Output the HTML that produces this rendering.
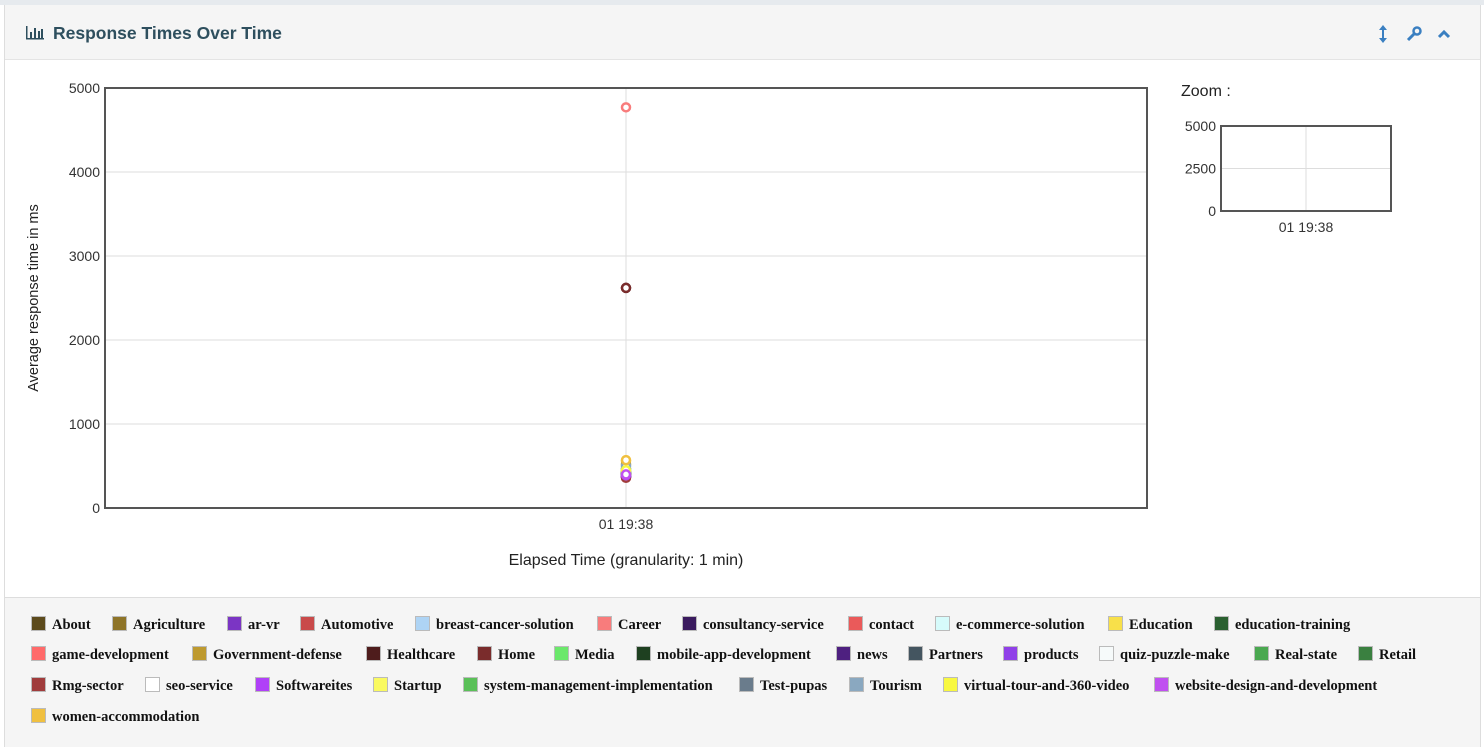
<!DOCTYPE html>
<html><head><meta charset="utf-8"><style>
body{margin:0;width:1484px;height:751px;background:#fff;overflow:hidden;font-family:"Liberation Sans",sans-serif}
#top{position:absolute;left:0;top:0;width:1484px;height:5px;background:#e6eaee}
#panel{position:absolute;left:4px;top:5px;width:1475px;height:741px;border:1px solid #ddd;border-top:none;background:#fff}
#hdr{position:absolute;left:0;top:0;width:1475px;height:54px;background:#f5f5f5;border-bottom:1px solid #e4e4e4}
#title{position:absolute;left:48px;top:18px;font-size:17.5px;font-weight:bold;color:#2e4f5e}
#legend{position:absolute;left:0;top:592px;width:1475px;height:149px;background:#f5f5f5;border-top:1px solid #ddd}
#legend .it{position:absolute;font-family:"Liberation Serif",serif;font-weight:bold;font-size:14.5px;color:#111;white-space:nowrap}
#legend .sw{display:inline-block;width:13px;height:13px;border:1px solid #bbb;vertical-align:-2px;margin-right:6px}
</style></head><body>
<div id="top"></div>
<div id="panel">
<div id="hdr">
<svg style="position:absolute;left:20px;top:20px" width="20" height="16"><rect x="1" y="1" width="1.5" height="13" fill="#2e4f5e"/><rect x="1" y="13" width="18" height="1.5" fill="#2e4f5e"/><rect x="5" y="7" width="2" height="6" fill="#2e4f5e"/><rect x="9" y="3" width="2" height="10" fill="#2e4f5e"/><rect x="13" y="6" width="2" height="7" fill="#2e4f5e"/><rect x="16" y="4" width="2" height="9" fill="#2e4f5e"/></svg>
<div id="title">Response Times Over Time</div>
<svg style="position:absolute;left:1370px;top:20px" width="90" height="18">
<g fill="#3a7fc1"><rect x="7" y="3" width="2" height="12"/><polygon points="4,5 8,0 12,5"/><polygon points="4,13 8,18 12,13"/></g>
<g stroke="#3a7fc1" fill="none"><line x1="33" y1="15" x2="40" y2="8" stroke-width="3"/><circle cx="42" cy="6" r="3.5" stroke-width="2.5"/></g>
<polyline points="64,12 69,7 74,12" stroke="#3a7fc1" stroke-width="3" fill="none"/>
</svg>
</div>
<svg id="main" style="position:absolute;left:-4px;top:-5px" width="1484" height="600"></svg>
<div id="legend"></div>
</div>
<script>
const categories=["01 19:38"];
const seriesNames=["About","Agriculture","ar-vr","Automotive","breast-cancer-solution","Career","consultancy-service","contact","e-commerce-solution","Education","education-training","game-development","Government-defense","Healthcare","Home","Media","mobile-app-development","news","Partners","products","quiz-puzzle-make","Real-state","Retail","Rmg-sector","seo-service","Softwareites","Startup","system-management-implementation","Test-pupas","Tourism","virtual-tour-and-360-video","website-design-and-development","women-accommodation"];
const seriesColors=["#5c4a1c","#8e7428","#7b35c4","#c94a4a","#aed4f5","#f87c7c","#3a1a5e","#ea5a5a","#d6fbfb","#f8e04a","#2a6030","#ff6a6a","#be9a30","#4e1c1c","#7a2c2c","#6be86b","#1e4020","#4e2080","#445560","#9040e8","#f6fafa","#4aa850","#3a8040","#a03c3c","#ffffff","#b040f8","#fafa60","#5ac058","#6a7c8c","#8aa8c0","#f8f840","#c050f0","#f0c040"];
const seriesValues=[400,420,380,390,430,4770,370,440,500,560,410,450,520,2620,2620,460,400,370,420,380,450,410,400,360,480,390,440,430,470,500,450,400,570];
const yTicks=[0,1000,2000,3000,4000,5000];
const zoomTicks=[0,2500,5000];
const NS="http://www.w3.org/2000/svg";
const svg=document.getElementById('main');
function el(t,a,p){const e=document.createElementNS(NS,t);for(const k in a)e.setAttribute(k,a[k]);(p||svg).appendChild(e);return e;}
const L=104,R=1146,T=88,B=508,ymax=5000;
const y=v=>B-(v/ymax)*(B-T);
const x=i=>L+(R-L)*(i+0.5)/categories.length;
for(const t of yTicks){
 const g=el('line',{x1:L,x2:R,y1:y(t),y2:y(t),stroke:'#ddd'});
 
 const tx=el('text',{x:L-5,y:y(t)+5,'text-anchor':'end','font-size':14,fill:'#333'});tx.textContent=t;
 
}
categories.forEach((c,i)=>{
 const g=el('line',{x1:x(i),x2:x(i),y1:T,y2:B,stroke:'#ddd'});
 
 const tx=el('text',{x:x(i),y:B+21,'text-anchor':'middle','font-size':14,fill:'#333'});tx.textContent=c;
 
});
const fr=el('rect',{x:L,y:T,width:R-L,height:B-T,fill:'none',stroke:'#555','stroke-width':2});

let yt=el('text',{x:37,y:298,'text-anchor':'middle','font-size':14.5,fill:'#222',transform:'rotate(-90 37 298)'});yt.textContent='Average response time in ms';

let xt=el('text',{x:625,y:565,'text-anchor':'middle','font-size':16,fill:'#222'});xt.textContent='Elapsed Time (granularity: 1 min)';

seriesValues.forEach((v,s)=>{
 const c=el('circle',{cx:x(0),cy:y(v),r:4,fill:'#fff',stroke:seriesColors[s],'stroke-width':2.5});
 
 
});
const ZL=1220,ZR=1390,ZT=126,ZB=211;
const zy=v=>ZB-(v/ymax)*(ZB-ZT);
let zt=el('text',{x:1180,y:96,'font-size':16,fill:'#222'});zt.textContent='Zoom :';

for(const t of zoomTicks){
 const g=el('line',{x1:ZL,x2:ZR,y1:zy(t),y2:zy(t),stroke:'#ddd'});
 
 const tx=el('text',{x:ZL-5,y:zy(t)+5,'text-anchor':'end','font-size':14,fill:'#333'});tx.textContent=t;
 
}
const zx=ZL+(ZR-ZL)/2;
let zg=el('line',{x1:zx,x2:zx,y1:ZT,y2:ZB,stroke:'#ddd'});

let zr=el('rect',{x:ZL,y:ZT,width:ZR-ZL,height:ZB-ZT,fill:'none',stroke:'#555','stroke-width':2});

let zl=el('text',{x:zx,y:232,'text-anchor':'middle','font-size':14,fill:'#333'});zl.textContent=categories[0];

const legendLayout=[
 [31,112,227,300,415,597,682,848,935,1108,1214],
 [31,192,366,477,554,636,836,908,1003,1099,1254,1358],
 [31,145,255,373,463,739,849,943,1154],
 [31]];
const rowY=[18,48,79,110];
const lg=document.getElementById('legend');
let idx=0;
legendLayout.forEach((row,ri)=>{
 row.forEach(px=>{
  const i=idx++;
  const d=document.createElement('div');d.className='it';
  
  
  d.style.left=(px-5)+'px';d.style.top=rowY[ri]+'px';
  d.innerHTML='<span class="sw" style="background:'+seriesColors[i]+'"></span>'+seriesNames[i];
  lg.appendChild(d);
 });
});
</script>
</body></html>
